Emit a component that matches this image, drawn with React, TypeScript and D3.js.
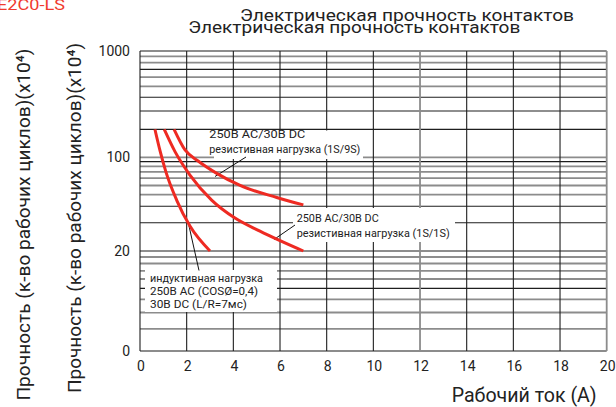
import React from 'react';
import * as d3 from 'd3';

// ---- data ----
const currentTicks = [0, 2, 4, 6, 8, 10, 12, 14, 16, 18, 20];
const durabilityBreaks = [0, 20, 100, 1000];
const durabilityLabels = ['0', '20', '100', '1000'];

// inductive load 250V AC (cos=0.4) / 30V DC (L/R=7ms)
const inductiveA = [0.64, 0.86, 1.11, 1.57, 2.14, 3.0];
const inductiveN = [200, 118.6, 73.3, 42.2, 27.5, 20];
// resistive 1S/1S
const res11A = [1.04, 1.5, 2.14, 3.07, 4.07, 5.14, 7.0];
const res11N = [200, 116.5, 68.6, 42.2, 31.1, 25.6, 20];
// resistive 1S/9S
const res19A = [1.46, 1.93, 2.49, 3.29, 4.29, 5.86, 7.0];
const res19N = [200, 121.5, 92.3, 71, 55.6, 44.2, 38.7];

const titleText = 'Электрическая прочность контактов';
const yLabelText = 'Прочность (к-во рабочих циклов)(x10⁴)';
const xLabelText = 'Рабочий ток (A)';
const modelText = 'E2C0-LS';
const label19 = ['250В AC/30В DC', 'резистивная нагрузка (1S/9S)'];
const label11 = ['250В AC/30В DC', 'резистивная нагрузка (1S/1S)'];
const labelInd = ['индуктивная нагрузка', '250В AC (COSØ=0,4)', '30В DC (L/R=7мс)'];

// ---- layout ----
const W = 616;
const H = 407;
const left = 140;
const right = 606.7;
const top = 51;
const bottom = 351;

const x = d3.scaleLinear().domain([0, 20]).range([left, right]);
// position of each decade-like segment
const segPix = d3.scaleLinear().domain([0, 1, 2, 3]).range([bottom, 251, 157.3, top]);
const segSteps = d3.scaleLinear().domain(durabilityBreaks).range([0, 9, 18, 27]).clamp(true);
const segOffsets = [1.5, 0, 0.5];
const segWarp = segOffsets.map((c) => d3.scaleLog().domain([1 + c, 10 + c]).range([0, 1]));

function unitY(seg: number, k: number) {
  if (seg >= 3) return segPix(3);
  const c = segOffsets[seg];
  return segPix(seg + segWarp[seg](k + 1 + c));
}
function y(v: number) {
  const u = segSteps(v);
  const seg = Math.min(2, Math.floor(u / 9));
  return unitY(seg, u - 9 * seg);
}

const hStyle = 'ggggbgggbbbbgggggbgbbbggbggg';
const vStyle = 'bbbbbbgbbbg';

const line = d3
  .line<[number, number]>()
  .x((d) => x(d[0]))
  .y((d) => y(d[1]))
  .curve(d3.curveMonotoneX);

const zip = (a: number[], n: number[]) => a.map((v, i) => [v, n[i]] as [number, number]);

const FONT = 'Roboto, "Noto Sans", sans-serif';

export default function App() {
  const hLines: { y: number; dark: boolean }[] = [];
  let idx = 0;
  for (let s = 0; s < 3; s++) {
    for (let k = 0; k < 9; k++) {
      hLines.push({ y: unitY(s, k), dark: hStyle[idx] === 'b' });
      idx++;
    }
  }
  hLines.push({ y: unitY(3, 0), dark: hStyle[idx] === 'b' });

  const grey = '#8c8c8c';
  const dark = '#1e1e1e';
  const red = '#ee2a22';

  return (
    <svg
      width={W}
      height={H}
      style={{ position: 'absolute', left: 0, top: 0, background: '#fff' }}
      fontFamily={FONT}
    >
      <rect x={0} y={0} width={W} height={H} fill="#fff" />
      <text x={-3} y={9.5} fontSize={15} fill="#f03a2e" textLength={68} lengthAdjust="spacingAndGlyphs">
        {modelText}
      </text>
      {/* titles (doubled) */}
      <text x={240} y={20.5} fontSize={17} fill="#222" textLength={334} lengthAdjust="spacingAndGlyphs">
        {titleText}
      </text>
      <text x={188.3} y={33} fontSize={17} fill="#222" textLength={332} lengthAdjust="spacingAndGlyphs">
        {titleText}
      </text>

      {/* y labels (doubled) */}
      <text
        transform={`translate(29.5,224.5) rotate(-90)`}
        textAnchor="middle"
        fontSize={19}
        fill="#222"
        textLength={352}
        lengthAdjust="spacingAndGlyphs"
      >
        {yLabelText}
      </text>
      <text
        transform={`translate(80.5,218) rotate(-90)`}
        textAnchor="middle"
        fontSize={19}
        fill="#222"
        textLength={350}
        lengthAdjust="spacingAndGlyphs"
      >
        {yLabelText}
      </text>

      {/* grid */}
      {hLines.map((l, i) => (
        <line
          key={'h' + i}
          x1={left}
          x2={right}
          y1={l.y}
          y2={l.y}
          stroke={l.dark ? dark : grey}
          strokeWidth={l.dark ? 1.1 : 1.8}
        />
      ))}
      {currentTicks.map((t, i) => (
        <line
          key={'v' + i}
          x1={x(t)}
          x2={x(t)}
          y1={top}
          y2={bottom}
          stroke={vStyle[i] === 'b' ? dark : grey}
          strokeWidth={vStyle[i] === 'b' ? 1.1 : 1.8}
        />
      ))}

      {/* tick labels */}
      {durabilityBreaks.map((v, i) => (
        <text key={'yt' + i} x={130} y={y(v) + 5} textAnchor="end" fontSize={14} fill="#222">
          {durabilityLabels[i]}
        </text>
      ))}
      {currentTicks.map((t, i) => (
        <text key={'xt' + i} x={x(t) + 1} y={371} textAnchor="middle" fontSize={14} fill="#222">
          {String(t)}
        </text>
      ))}
      <text x={451.7} y={401.5} fontSize={20} fill="#222" textLength={145} lengthAdjust="spacingAndGlyphs">
        {xLabelText}
      </text>

      {/* label backgrounds */}
      <rect x={214} y={130.5} width={149} height={28.5} fill="#fff" />
      <rect x={293} y={208} width={162} height={34} fill="#fff" />
      <rect x={145} y={270} width={132} height={42} fill="#fff" />

      {/* leaders */}
      <line x1={246} y1={157} x2={215} y2={176.5} stroke="#111" strokeWidth={1} />
      <line x1={295} y1={225} x2={274} y2={239.5} stroke="#111" strokeWidth={1} />
      <line x1={199} y1={270.5} x2={189} y2={226} stroke="#111" strokeWidth={1} />

      {/* curves */}
      <path d={line(zip(inductiveA, inductiveN)) || ''} fill="none" stroke={red} strokeWidth={3} />
      <path d={line(zip(res11A, res11N)) || ''} fill="none" stroke={red} strokeWidth={3} />
      <path d={line(zip(res19A, res19N)) || ''} fill="none" stroke={red} strokeWidth={3} />

      {/* labels */}
      <text x={209.3} y={137.7} fontSize={11.5} fill="#222" textLength={96} lengthAdjust="spacingAndGlyphs">
        {label19[0]}
      </text>
      <text x={209.3} y={153.3} fontSize={11.5} fill="#222" textLength={151} lengthAdjust="spacingAndGlyphs">
        {label19[1]}
      </text>
      <text x={296.7} y={221.7} fontSize={11} fill="#222" textLength={82} lengthAdjust="spacingAndGlyphs">
        {label11[0]}
      </text>
      <text x={296.7} y={237.3} fontSize={11} fill="#222" textLength={153} lengthAdjust="spacingAndGlyphs">
        {label11[1]}
      </text>
      <text x={150} y={281.7} fontSize={11} fill="#222" textLength={113} lengthAdjust="spacingAndGlyphs">
        {labelInd[0]}
      </text>
      <text x={150} y={295} fontSize={11} fill="#222" textLength={108} lengthAdjust="spacingAndGlyphs">
        {labelInd[1]}
      </text>
      <text x={150} y={308.3} fontSize={11} fill="#222" textLength={97} lengthAdjust="spacingAndGlyphs">
        {labelInd[2]}
      </text>
    </svg>
  );
}
